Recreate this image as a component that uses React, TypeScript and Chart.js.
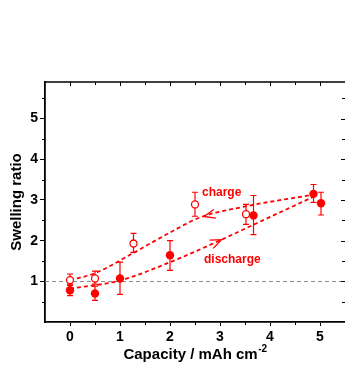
import React, { useEffect, useRef } from "react";
import { Chart, registerables } from "chart.js";

Chart.register(...registerables);

const RED = "#ff0000";
const FONT = "Arial, 'Liberation Sans', sans-serif";

// axis ticks
const xTicks = [0, 1, 2, 3, 4, 5];
const yTicks = [1, 2, 3, 4, 5];
const xMinor = [0.5, 1.5, 2.5, 3.5, 4.5];
const yMinor = [0.5, 1.5, 2.5, 3.5, 4.5, 5.5];
const refY = 1;

// charge (open circles)
const chargeX = [0, 0.5, 1.27, 2.5, 3.52];
const chargeY = [1.03, 1.07, 1.93, 2.89, 2.65];
const chargeErrUp = [0.15, 0.18, 0.25, 0.3, 0.24];
const chargeErrDown = [0.13, 0.14, 0.22, 0.29, 0.25];

// discharge (filled circles)
const dischargeX = [0, 0.5, 1.0, 2.0, 3.67, 4.87, 5.02];
const dischargeY = [0.78, 0.7, 1.07, 1.64, 2.62, 3.15, 2.92];
const dischargeErrUp = [0.15, 0.18, 0.4, 0.36, 0.49, 0.23, 0.27];
const dischargeErrDown = [0.13, 0.17, 0.39, 0.37, 0.47, 0.21, 0.29];

// dashed guide curves
const chargeCurveX = [0, 0.5, 1.3, 2.0, 2.6, 3.5, 4.87];
const chargeCurveY = [1.03, 1.2, 1.72, 2.2, 2.57, 2.84, 3.13];
const dischargeCurveX = [0, 1.0, 2.0, 2.9, 3.65, 4.87];
const dischargeCurveY = [0.82, 1.02, 1.47, 1.95, 2.38, 3.08];

// arrows on curves (tip x)
const chargeArrowX = 2.68;
const dischargeArrowX = 3.03;

// annotations
const labelTexts = ["charge", "discharge"];
const labelX = [2.64, 2.68];
const labelY = [3.19, 1.52];

const xTitleMain = "Capacity / mAh cm";
const xTitleSup = "-2";
const yTitle = "Swelling ratio";

function interp(xs: number[], ys: number[], x: number) {
  for (let i = 0; i < xs.length - 1; i++) {
    if (x >= xs[i] && x <= xs[i + 1]) {
      const t = (x - xs[i]) / (xs[i + 1] - xs[i]);
      return ys[i] + t * (ys[i + 1] - ys[i]);
    }
  }
  return ys[ys.length - 1];
}

const overlay = {
  id: "overlay",
  beforeDatasetsDraw(chart: any) {
    const { ctx, chartArea: ca, scales } = chart;
    const x = scales.x, y = scales.y;
    ctx.save();
    // reference line
    ctx.strokeStyle = "#8c8c8c";
    ctx.lineWidth = 1;
    ctx.setLineDash([4, 3]);
    const py = Math.round(y.getPixelForValue(refY)) + 0.5;
    ctx.beginPath();
    ctx.moveTo(ca.left, py);
    ctx.lineTo(ca.right, py);
    ctx.stroke();
    ctx.setLineDash([]);
    // error bars
    ctx.strokeStyle = RED;
    ctx.lineWidth = 1.2;
    const bars = (xs: number[], ys: number[], up: number[], dn: number[]) => {
      xs.forEach((xv, i) => {
        const px = x.getPixelForValue(xv);
        const top = y.getPixelForValue(ys[i] + up[i]);
        const bot = y.getPixelForValue(ys[i] - dn[i]);
        ctx.beginPath();
        ctx.moveTo(px, top);
        ctx.lineTo(px, bot);
        ctx.moveTo(px - 3, top);
        ctx.lineTo(px + 3, top);
        ctx.moveTo(px - 3, bot);
        ctx.lineTo(px + 3, bot);
        ctx.stroke();
      });
    };
    bars(chargeX, chargeY, chargeErrUp, chargeErrDown);
    bars(dischargeX, dischargeY, dischargeErrUp, dischargeErrDown);
    ctx.restore();
  },
  afterDatasetsDraw(chart: any) {
    const { ctx, scales } = chart;
    const x = scales.x, y = scales.y;
    ctx.save();
    // arrows
    ctx.strokeStyle = RED;
    ctx.lineWidth = 1.3;
    const arrow = (xs: number[], ys: number[], xt: number, dir: number) => {
      const tx = x.getPixelForValue(xt);
      const ty = y.getPixelForValue(interp(xs, ys, xt));
      const bx = x.getPixelForValue(xt - dir * 0.2);
      const by = y.getPixelForValue(interp(xs, ys, xt - dir * 0.2));
      const ang = Math.atan2(by - ty, bx - tx);
      const len = 12;
      const spread = (22 * Math.PI) / 180;
      ctx.beginPath();
      ctx.moveTo(tx + len * Math.cos(ang + spread), ty + len * Math.sin(ang + spread));
      ctx.lineTo(tx, ty);
      ctx.lineTo(tx + len * Math.cos(ang - spread), ty + len * Math.sin(ang - spread));
      ctx.stroke();
    };
    arrow(chargeCurveX, chargeCurveY, chargeArrowX, -1);
    arrow(dischargeCurveX, dischargeCurveY, dischargeArrowX, 1);
    // labels
    ctx.fillStyle = RED;
    ctx.font = `bold 12px ${FONT}`;
    ctx.textAlign = "left";
    ctx.textBaseline = "middle";
    labelTexts.forEach((t, i) => {
      ctx.fillText(t, x.getPixelForValue(labelX[i]), y.getPixelForValue(labelY[i]));
    });
    ctx.restore();
  },
  afterDraw(chart: any) {
    const { ctx, chartArea: ca, scales } = chart;
    const x = scales.x, y = scales.y;
    ctx.save();
    ctx.strokeStyle = "#000";
    // top border
    ctx.lineWidth = 1.5;
    ctx.beginPath();
    ctx.moveTo(ca.left, ca.top);
    ctx.lineTo(ca.right, ca.top);
    ctx.stroke();
    ctx.lineWidth = 1;
    ctx.beginPath();
    // top ticks (inward)
    xTicks.forEach((v) => {
      const px = Math.round(x.getPixelForValue(v)) + 0.5;
      ctx.moveTo(px, ca.top);
      ctx.lineTo(px, ca.top + 4);
    });
    xMinor.forEach((v) => {
      const px = Math.round(x.getPixelForValue(v)) + 0.5;
      ctx.moveTo(px, ca.top);
      ctx.lineTo(px, ca.top + 3);
    });
    // bottom minor ticks (outward)
    xMinor.forEach((v) => {
      const px = Math.round(x.getPixelForValue(v)) + 0.5;
      ctx.moveTo(px, ca.bottom);
      ctx.lineTo(px, ca.bottom + 3);
    });
    // left minor ticks (outward)
    yMinor.forEach((v) => {
      const py = Math.round(y.getPixelForValue(v)) + 0.5;
      ctx.moveTo(ca.left, py);
      ctx.lineTo(ca.left - 3, py);
    });
    // right ticks (inward)
    yTicks.forEach((v) => {
      const py = Math.round(y.getPixelForValue(v)) + 0.5;
      ctx.moveTo(ca.right, py);
      ctx.lineTo(ca.right - 4, py);
    });
    yMinor.forEach((v) => {
      const py = Math.round(y.getPixelForValue(v)) + 0.5;
      ctx.moveTo(ca.right, py);
      ctx.lineTo(ca.right - 3, py);
    });
    ctx.stroke();
    // x title with superscript
    ctx.fillStyle = "#000";
    ctx.textBaseline = "middle";
    ctx.textAlign = "left";
    const mainFont = `bold 15px ${FONT}`;
    const supFont = `bold 10px ${FONT}`;
    ctx.font = mainFont;
    const w1 = ctx.measureText(xTitleMain).width;
    ctx.font = supFont;
    const w2 = ctx.measureText(xTitleSup).width;
    const cx = (ca.left + ca.right) / 2;
    const startX = cx - (w1 + w2) / 2;
    const ty = 355;
    ctx.font = mainFont;
    ctx.fillText(xTitleMain, startX, ty);
    ctx.font = supFont;
    ctx.fillText(xTitleSup, startX + w1 + 0.5, ty - 6);
    ctx.restore();
  },
};

export default function App() {
  const ref = useRef<HTMLCanvasElement | null>(null);
  useEffect(() => {
    document.body.style.margin = "0";
    document.body.style.overflow = "hidden";
    const canvas = ref.current;
    if (!canvas) return;
    const toPts = (xs: number[], ys: number[]) => xs.map((v, i) => ({ x: v, y: ys[i] }));
    const chart = new Chart(canvas, {
      type: "scatter",
      data: {
        datasets: [
          {
            data: toPts(chargeX, chargeY),
            pointRadius: 3.5,
            pointBackgroundColor: "#ffffff",
            pointBorderColor: RED,
            pointBorderWidth: 1.3,
            showLine: false,
            order: 1,
          },
          {
            data: toPts(dischargeX, dischargeY),
            pointRadius: 4.2,
            pointBackgroundColor: RED,
            pointBorderColor: RED,
            pointBorderWidth: 0,
            showLine: false,
            order: 1,
          },
          {
            data: toPts(chargeCurveX, chargeCurveY),
            showLine: true,
            pointRadius: 0,
            borderColor: RED,
            borderWidth: 1.8,
            borderDash: [4, 3],
            cubicInterpolationMode: "monotone",
            order: 3,
          },
          {
            data: toPts(dischargeCurveX, dischargeCurveY),
            showLine: true,
            pointRadius: 0,
            borderColor: RED,
            borderWidth: 1.8,
            borderDash: [4, 3],
            cubicInterpolationMode: "monotone",
            order: 3,
          },
        ] as any,
      },
      options: {
        animation: false,
        responsive: false,
        devicePixelRatio: 1,
        layout: { autoPadding: false, padding: { top: 82, right: 0, bottom: 0, left: 0 } },
        plugins: { legend: { display: false }, tooltip: { enabled: false } },
        scales: {
          x: {
            type: "linear",
            min: -0.5,
            max: 5.5,
            afterBuildTicks: (s: any) => {
              s.ticks = xTicks.map((v) => ({ value: v }));
            },
            afterFit: (s: any) => {
              s.height = 47;
              s.paddingLeft = 0;
              s.paddingRight = 0;
            },
            grid: {
              drawOnChartArea: false,
              drawTicks: true,
              tickLength: 4,
              color: "#000",
              lineWidth: 1,
            },
            border: { display: true, color: "#000", width: 1.8 },
            ticks: {
              color: "#000",
              font: { family: FONT, size: 14, weight: "bold" },
              padding: 3,
              maxRotation: 0,
              autoSkip: false,
            },
          },
          y: {
            type: "linear",
            min: 0,
            max: 5.9,
            afterBuildTicks: (s: any) => {
              s.ticks = yTicks.map((v) => ({ value: v }));
            },
            afterFit: (s: any) => {
              s.width = 45;
              s.paddingTop = 0;
              s.paddingBottom = 0;
            },
            grid: {
              drawOnChartArea: false,
              drawTicks: true,
              tickLength: 5,
              color: "#000",
              lineWidth: 1,
            },
            border: { display: true, color: "#000", width: 1.8 },
            ticks: {
              color: "#000",
              font: { family: FONT, size: 14, weight: "bold" },
              padding: 2,
            },
            title: {
              display: true,
              text: yTitle,
              color: "#000",
              font: { family: FONT, size: 15, weight: "bold" },
              padding: { top: 8, bottom: 0 },
            },
          },
        },
      } as any,
      plugins: [overlay],
    });
    return () => chart.destroy();
  }, []);
  return (
    <div style={{ position: "absolute", left: 0, top: 0, width: 345, height: 369 }}>
      <canvas ref={ref} width={345} height={369} style={{ display: "block" }} />
    </div>
  );
}
